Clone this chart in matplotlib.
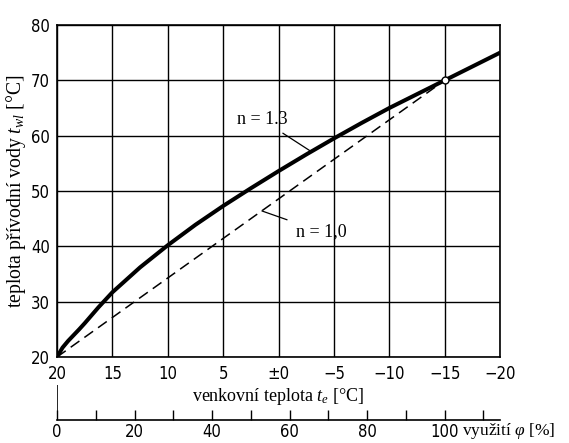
import matplotlib
matplotlib.use("Agg")
import matplotlib.pyplot as plt

plt.rcParams["mathtext.fontset"] = "custom"
plt.rcParams["mathtext.rm"] = "Liberation Serif"
plt.rcParams["mathtext.it"] = "Liberation Serif:italic"

# outdoor temperature [°C] and supply water temperature
te = [20, 19.5, 19, 18, 17.5, 16.25, 15, 12.5, 10, 7.5, 5, 2.5, 0, -2.5, -5, -7.5, -10, -12.5, -15, -17.5, -20]
tw_n13 = [20, 21.7, 22.9, 25.0, 26.1, 29.0, 31.7, 36.2, 40.2, 43.9, 47.3, 50.5, 53.6,
          56.6, 59.5, 62.3, 65.0, 67.5, 70.0, 72.5, 75.0]
te_n10 = [20, -15]
tw_n10 = [20, 70]

te_ticks = [20, 15, 10, 5, 0, -5, -10, -15, -20]
te_labels = ["20", "15", "10", "5", "±0", "−5", "−10", "−15", "−20"]
tw_ticks = [20, 30, 40, 50, 60, 70, 80]
phi_ticks = list(range(0, 111, 10))
phi_labels = ["0", "", "20", "", "40", "", "60", "", "80", "", "100", ""]

sans = dict(family="DejaVu Sans", stretch="condensed", size=12)
serif = dict(family="Liberation Serif", size=13)

fig = plt.figure(figsize=(5.69, 4.43), dpi=100)
ax = fig.add_axes([0.1002, 0.1941, 0.7786, 0.7494])

ax.set_xlim(20, -20)
ax.set_ylim(20, 80)
ax.set_xticks(te_ticks)
ax.set_xticklabels(te_labels, **sans)
ax.set_yticks(tw_ticks)
ax.set_yticklabels([str(v) for v in tw_ticks], **sans)
ax.tick_params(axis="y", length=0, pad=5)
ax.tick_params(axis="x", length=0, pad=6)
ax.grid(True, color="k", lw=1.0)
for s in ax.spines.values():
    s.set_linewidth(1.2)

ax.plot(te, tw_n13, color="k", lw=2.9, solid_capstyle="round", solid_joinstyle="round", zorder=3)
ax.plot(te_n10, tw_n10, color="k", lw=1.1, dashes=(7, 4), zorder=3)
ax.plot([-15], [70], "o", ms=5, mfc="white", mec="k", mew=1.0, zorder=4)

ax.annotate("n = 1.3", xy=(-2.9, 57.2), xytext=(1.5, 62.9), ha="center", va="center",
            arrowprops=dict(arrowstyle="-", color="k", lw=0.9, shrinkA=3, shrinkB=0), **serif)
ax.annotate("n = 1,0", xy=(1.5, 46.4), xytext=(-3.9, 42.6), ha="center", va="center",
            arrowprops=dict(arrowstyle="-", color="k", lw=0.9, shrinkA=5, shrinkB=0), **serif)

ax.set_ylabel("teplota přívodní vody $t_{wl}$ [°C]", labelpad=2, family="Liberation Serif", size=14.2)
ax.set_xlabel("venkovní teplota $t_e$ [°C]", labelpad=2, **serif)

# secondary scale: utilisation phi, 0 % at +20 °C and 100 % at -15 °C
ax2 = fig.add_axes([0.1002, 0.0519, 0.7786, 0.079])
ax2.set_xlim(0, 800 / 7)
ax2.set_ylim(0, 1)
ax2.patch.set_visible(False)
for k in ["top", "right", "left"]:
    ax2.spines[k].set_visible(False)
ax2.spines["bottom"].set_linewidth(1.2)
ax2.axvline(0, color="k", lw=1.2)
ax2.set_yticks([])
ax2.set_xticks(phi_ticks)
ax2.set_xticklabels(phi_labels, **sans)
ax2.tick_params(axis="x", direction="in", length=7, width=1.0, pad=2)
ax2.text(104.4, -0.3, "využití $\\varphi$ [%]", ha="left", va="center",
         clip_on=False, family="Liberation Serif", size=12.5)

fig.savefig("out.png", dpi=100)
